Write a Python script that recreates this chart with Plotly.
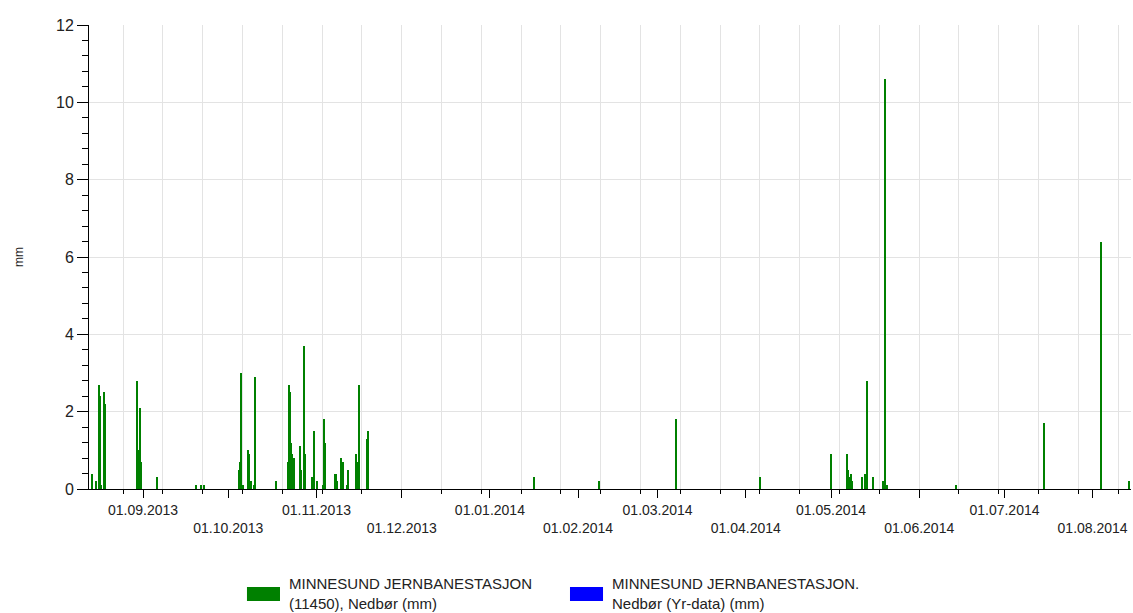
import plotly.graph_objects as go

# ======================================
# DATA
# ======================================

rain_times = [
    "2013-08-14 04:00", "2013-08-15 11:00", "2013-08-16 13:00", "2013-08-16 21:00",
    "2013-08-17 11:00", "2013-08-18 07:00", "2013-08-18 18:00", "2013-08-29 19:00",
    "2013-08-30 03:00", "2013-08-30 12:00", "2013-08-30 23:00", "2013-08-31 07:00",
    "2013-09-06 01:00", "2013-09-19 15:00", "2013-09-21 15:00", "2013-09-22 11:00",
    "2013-10-04 18:00", "2013-10-05 05:00", "2013-10-05 17:00", "2013-10-06 04:00",
    "2013-10-08 01:00", "2013-10-08 12:00", "2013-10-09 00:00", "2013-10-10 01:00",
    "2013-10-10 09:00", "2013-10-17 23:00", "2013-10-22 01:00", "2013-10-22 11:00",
    "2013-10-22 19:00", "2013-10-23 03:00", "2013-10-23 14:00", "2013-10-23 22:00",
    "2013-10-24 08:00", "2013-10-26 05:00", "2013-10-26 16:00", "2013-10-27 15:00",
    "2013-10-28 02:00", "2013-10-30 12:00", "2013-10-31 09:00", "2013-11-01 10:00",
    "2013-11-03 09:00", "2013-11-03 17:00", "2013-11-04 06:00", "2013-11-07 12:00",
    "2013-11-07 23:00", "2013-11-08 09:00", "2013-11-09 21:00", "2013-11-10 08:00",
    "2013-11-11 16:00", "2013-11-12 05:00", "2013-11-14 23:00", "2013-11-15 10:00",
    "2013-11-15 21:00", "2013-11-18 17:00", "2013-11-19 05:00", "2014-01-16 11:00",
    "2014-02-08 08:00", "2014-03-07 12:00", "2014-04-06 05:00", "2014-04-30 22:00",
    "2014-05-06 13:00", "2014-05-07 00:00", "2014-05-07 14:00", "2014-05-08 01:00",
    "2014-05-08 13:00", "2014-05-12 01:00", "2014-05-12 23:00", "2014-05-13 14:00",
    "2014-05-15 22:00", "2014-05-19 05:00", "2014-05-20 04:00", "2014-05-20 17:00",
    "2014-06-14 03:00", "2014-07-14 22:00", "2014-08-04 02:00", "2014-08-14 01:00",
]

rain_mm = [
    0.4, 0.2, 2.7, 2.4,
    0.1, 2.5, 2.2, 0.1,
    2.8, 1.0, 2.1, 0.7,
    0.3, 0.1, 0.1, 0.1,
    0.5, 0.7, 3.0, 0.1,
    1.0, 0.9, 0.2, 0.1,
    2.9, 0.2, 0.7, 2.7,
    2.5, 1.2, 0.9, 0.8,
    0.8, 1.1, 0.5, 3.7,
    0.9, 0.3, 1.5, 0.2,
    0.1, 1.8, 1.2, 0.4,
    0.4, 0.2, 0.8, 0.7,
    0.1, 0.5, 0.9, 0.7,
    2.7, 1.3, 1.5, 0.3,
    0.2, 1.8, 0.3, 0.9,
    0.9, 0.5, 0.3, 0.4,
    0.2, 0.3, 0.4, 2.8,
    0.3, 0.2, 10.6, 0.1,
    0.1, 1.7, 6.4, 0.2,
]

month_ticks = [
    "2013-09-01", "2013-10-01", "2013-11-01", "2013-12-01",
    "2014-01-01", "2014-02-01", "2014-03-01", "2014-04-01",
    "2014-05-01", "2014-06-01", "2014-07-01", "2014-08-01",
]

month_labels = [
    "01.09.2013", "01.10.2013", "01.11.2013", "01.12.2013",
    "01.01.2014", "01.02.2014", "01.03.2014", "01.04.2014",
    "01.05.2014", "01.06.2014", "01.07.2014", "01.08.2014",
]

series_names = [
    "MINNESUND JERNBANESTASJON<br>(11450), Nedbør (mm)",
    "MINNESUND JERNBANESTASJON.<br>Nedbør (Yr-data) (mm)",
]

series_colors = ["#008000", "#0000ff"]

# ======================================
# FIGURE
# ======================================

FONT = "Arial, Liberation Sans, sans-serif"
TEXT = "#222222"
GRID = "#e3e3e3"
DAY_MS = 86400000

fig = go.Figure()

fig.add_trace(
    go.Bar(
        x=rain_times,
        y=rain_mm,
        width=0.5 * DAY_MS,
        marker=dict(color=series_colors[0], line=dict(width=0)),
        name=series_names[0],
        showlegend=False,
    )
)

fig.add_trace(
    go.Bar(
        x=[],
        y=[],
        marker=dict(color=series_colors[1], line=dict(width=0)),
        name=series_names[1],
        showlegend=False,
    )
)

# alternate month labels onto two rows
tick_text = [
    lab if i % 2 == 0 else "<br>" + lab
    for i, lab in enumerate(month_labels)
]

fig.update_xaxes(
    type="date",
    range=["2013-08-13", "2014-08-14 12:00"],
    tickvals=month_ticks,
    ticktext=tick_text,
    ticks="outside",
    ticklen=8,
    tickcolor="black",
    showgrid=False,
    showline=True,
    linecolor="black",
    linewidth=1,
    zeroline=False,
    tickfont=dict(family=FONT, size=14, color=TEXT),
    minor=dict(
        tick0="2013-08-25",
        dtick=14 * DAY_MS,
        ticks="outside",
        ticklen=4,
        tickcolor="black",
        showgrid=True,
        gridcolor=GRID,
        gridwidth=1,
    ),
)

fig.update_yaxes(
    range=[0, 12],
    dtick=2,
    ticks="outside",
    ticklen=11,
    tickcolor="black",
    showgrid=True,
    gridcolor=GRID,
    gridwidth=1,
    showline=True,
    linecolor="black",
    linewidth=1,
    zeroline=False,
    tickfont=dict(family=FONT, size=16, color=TEXT),
    minor=dict(dtick=0.4, ticks="outside", ticklen=6, tickcolor="black", showgrid=False),
    title=dict(text="mm", font=dict(family=FONT, size=12, color=TEXT), standoff=29),
)

# legend drawn below the plot with wide swatches
legend_x = [0.1516, 0.4616]
for i, name in enumerate(series_names):
    fig.add_shape(
        type="rect",
        xref="paper",
        yref="paper",
        x0=legend_x[i],
        x1=legend_x[i] + 0.0317,
        y0=-0.2112,
        y1=-0.2414,
        fillcolor=series_colors[i],
        line=dict(width=0),
    )
    fig.add_annotation(
        xref="paper",
        yref="paper",
        x=legend_x[i] + 0.0385,
        y=-0.226,
        xanchor="left",
        yanchor="middle",
        align="left",
        showarrow=False,
        text=name,
        font=dict(family=FONT, size=15, color=TEXT),
    )

fig.update_layout(
    width=1133,
    height=613,
    margin=dict(l=89, r=2, t=25, b=124),
    paper_bgcolor="white",
    plot_bgcolor="white",
    barmode="overlay",
    bargap=0,
    showlegend=False,
    font=dict(family=FONT, color=TEXT),
)

# drop the default page margin so the figure sits at the window corner
fig.write_html(
    "out.html",
    config={"displayModeBar": False},
    post_script="document.body.style.margin='0';document.body.style.overflow='hidden';",
)
